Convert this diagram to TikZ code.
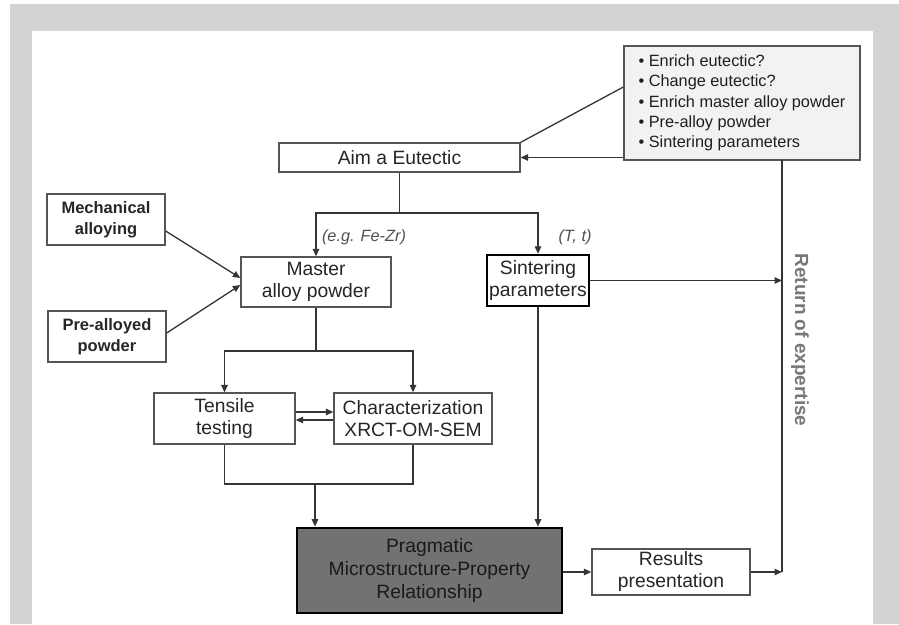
\documentclass[tikz,border=0pt]{standalone}
\usepackage{fontspec}
\setmainfont{Liberation Sans}
\usetikzlibrary{arrows.meta,calc}
\definecolor{framegray}{HTML}{D3D3D4}
\definecolor{linegray}{HTML}{353535}
\definecolor{boxgray}{HTML}{555555}
\definecolor{textgray}{HTML}{262626}
\definecolor{qfill}{HTML}{F2F2F2}
\definecolor{darkfill}{HTML}{727272}
\definecolor{labelgray}{HTML}{505050}
\definecolor{returngray}{HTML}{777777}
\tikzset{
  plainbox/.style={draw=boxgray, line width=1.3pt, fill=white, inner sep=0pt, align=center,
    text=textgray, font=\fontsize{19.3}{22}\selectfont},
  boldbox/.style={plainbox, font=\fontsize{16.5}{21}\selectfont\bfseries},
  thickbox/.style={plainbox, draw=black, line width=2.4pt},
  darkbox/.style={plainbox, draw=black, line width=2.8pt, fill=darkfill, text=black!90,
    font=\fontsize{19.3}{23}\selectfont},
  qbox/.style={draw=boxgray, line width=1.3pt, fill=qfill, inner sep=0pt, align=left,
    text=black!88, font=\fontsize{16.3}{20.3}\selectfont},
  conn/.style={draw=linegray, line width=1.3pt},
  arr/.style={conn, -{Triangle[length=7.5pt,width=6.5pt]}},
  lbl/.style={inner sep=0pt, text=labelgray, font=\fontsize{16.3}{20}\selectfont\itshape}
}
\begin{document}
\begin{tikzpicture}[x=1pt,y=-1pt]
\useasboundingbox (0,0) rectangle (899,624);
\fill[white] (0,0) rectangle (899,624);
\fill[framegray] (10,4) rectangle (899,624);
\fill[white] (32,31) rectangle (873,624);

% nodes
\node[qbox, minimum width=236pt, minimum height=114pt] (q) at (742,103)
  {\textbullet\ Enrich eutectic?\\ \textbullet\ Change eutectic?\\ \textbullet\ Enrich master alloy powder\\ \textbullet\ Pre-alloy powder\\ \textbullet\ Sintering parameters};
\node[plainbox, minimum width=241pt, minimum height=29pt] (aim) at (399.5,157.5) {Aim a Eutectic};
\node[boldbox, minimum width=118pt, minimum height=51pt] (mech) at (106,219.5) {Mechanical\\alloying};
\node[boldbox, minimum width=118pt, minimum height=51pt] (pre) at (107,336.5) {Pre-alloyed\\powder};
\node[plainbox, minimum width=150pt, minimum height=50pt] (master) at (316,282) {Master\\alloy powder};
\node[thickbox, minimum width=102pt, minimum height=51pt] (sint) at (538,280.5) {Sintering\\parameters};
\node[plainbox, minimum width=141pt, minimum height=51pt] (tens) at (224.5,418.5) {Tensile\\testing};
\node[plainbox, minimum width=158pt, minimum height=51pt] (char) at (413,418.5) {Characterization\\XRCT-OM-SEM};
\node[darkbox, minimum width=265pt, minimum height=85pt] (dark) at (429.5,570.5) {Pragmatic\\Microstructure-Property\\Relationship};
\node[plainbox, minimum width=158pt, minimum height=46pt] (res) at (671,572) {Results\\presentation};

\node[lbl] (lfe) at (364,237) {(e.g. Fe-Zr)};
\node[lbl] (ltt) at (575,237) {(T, t)};
\node[rotate=-90, inner sep=0pt, text=returngray, font=\fontsize{19}{22}\selectfont\bfseries] (ret) at (800,340) {Return of expertise};

% coordinates
\coordinate (s1) at (aim.south |- 0,213);
\coordinate (s2) at (master.south |- 0,351);
\coordinate (j1) at (tens.south |- 0,484);
\coordinate (j2) at (char.south |- 0,484);
\coordinate (j3) at (315,484);
\coordinate (r0) at (782,160);
\coordinate (r1) at (782,572);

% connectors
\draw[conn] (aim.north east) -- ([yshift=16pt]q.west);
\draw[arr] (q.west |- aim.east) -- (aim.east);
\draw[conn] (aim.south) -- (s1);
\draw[arr] (s1) -| (master.north);
\draw[arr] (s1) -| (sint.north);
\draw[arr] ([yshift=-11.5pt]mech.east) -- ([yshift=4pt]master.west);
\draw[arr] ([yshift=3.5pt]pre.east) -- ([yshift=-3pt]master.west);
\draw[conn] (master.south) -- (s2);
\draw[arr] (s2) -| (tens.north);
\draw[arr] (s2) -| (char.north);
\draw[arr] ([yshift=6.5pt]tens.east) -- ([yshift=6.5pt]char.west);
\draw[arr] ([yshift=-1.5pt]char.west) -- ([yshift=-1.5pt]tens.east);
\draw[conn] (tens.south) -- (j1) -- (j2) -- (char.south);
\draw[arr] (j3) -- (j3 |- dark.north);
\draw[arr] (sint.south) -- (sint.south |- dark.north);
\draw[arr] (dark.east |- res.west) -- (res.west);
\draw[arr] (res.east) -- (r1);
\draw[conn] (r0) -- (r1);
\draw[arr] (sint.east) -- (sint.east -| r0);
\end{tikzpicture}
\end{document}
